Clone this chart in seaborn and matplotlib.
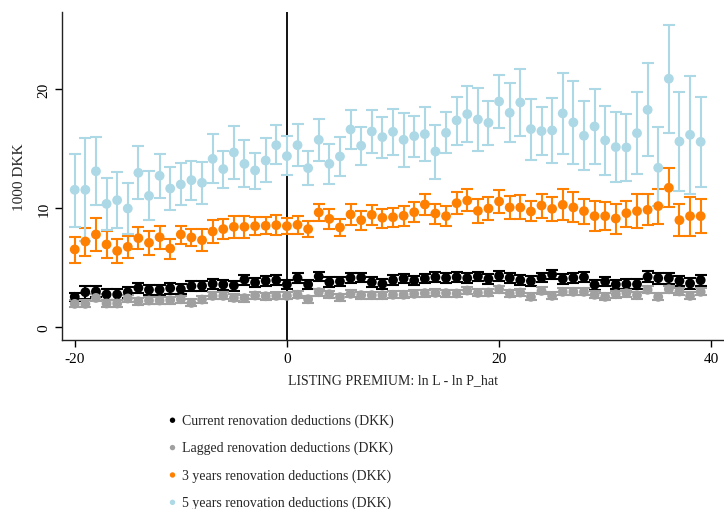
import numpy as np
import pandas as pd
import matplotlib
matplotlib.use("Agg")
import matplotlib.pyplot as plt
import seaborn as sns

x = list(range(-20, 40))

# 5 years renovation deductions (mean, lower, upper)
y5 = [11.54, 11.54, 13.10, 10.36, 10.67, 9.97, 12.97, 11.03, 12.72, 11.65,
      11.99, 12.35, 12.13, 14.14, 13.28, 14.68, 13.72, 13.17, 14.00, 15.29,
      14.37, 15.29, 13.36, 15.74, 13.72, 14.34, 16.61, 15.24, 16.44, 15.97,
      16.41, 15.74, 16.05, 16.22, 14.76, 16.33, 17.37, 17.90, 17.45, 17.17,
      18.96, 18.01, 18.88, 16.64, 16.47, 16.53, 17.96, 17.20, 16.08, 16.86,
      15.69, 15.13, 15.10, 16.30, 18.26, 13.39, 20.87, 15.60, 16.16, 15.57]
y5_hi = [14.56, 15.90, 15.97, 12.55, 13.05, 12.13, 15.20, 13.08, 14.56, 13.45,
         13.75, 13.98, 13.90, 16.19, 14.79, 16.92, 15.71, 14.65, 15.85, 16.95,
         16.02, 17.06, 14.76, 17.51, 15.38, 15.97, 18.24, 16.81, 18.21, 17.68,
         18.35, 18.01, 17.76, 18.46, 17.00, 18.04, 19.35, 20.25, 20.11, 19.02,
         21.20, 20.50, 21.71, 19.19, 18.51, 19.27, 21.34, 20.67, 18.96, 19.97,
         18.60, 18.07, 17.87, 19.78, 22.15, 16.78, 25.41, 19.75, 21.12, 19.35]
y5_lo = [8.43, 7.25, 10.25, 8.18, 8.32, 7.82, 10.76, 8.97, 10.87, 9.86,
         10.28, 10.67, 10.34, 12.13, 11.71, 12.46, 11.79, 11.65, 12.16, 13.67,
         12.77, 13.56, 11.96, 13.95, 12.07, 12.72, 14.96, 13.64, 14.62, 14.23,
         14.48, 13.47, 14.31, 13.92, 12.46, 14.62, 15.32, 15.55, 14.79, 15.32,
         16.70, 15.52, 16.08, 14.06, 14.43, 13.78, 14.56, 13.73, 13.22, 13.73,
         12.77, 12.18, 12.27, 12.83, 14.37, 10.17, 16.30, 11.48, 11.18, 11.76]

# 3 years renovation deductions
y3 = [6.53, 7.20, 7.79, 6.95, 6.41, 6.75, 7.48, 7.09, 7.56, 6.61,
      7.79, 7.54, 7.31, 8.04, 8.24, 8.43, 8.43, 8.49, 8.52, 8.57,
      8.49, 8.60, 8.24, 9.64, 9.10, 8.38, 9.47, 8.99, 9.44, 9.19,
      9.24, 9.36, 9.66, 10.31, 9.55, 9.33, 10.42, 10.64, 9.77, 9.97,
      10.56, 10.06, 10.06, 9.72, 10.22, 9.94, 10.28, 10.06, 9.75, 9.33,
      9.33, 9.13, 9.58, 9.75, 9.86, 10.17, 11.71, 8.99, 9.33, 9.33]
y3_hi = [7.59, 8.35, 9.19, 8.04, 7.37, 7.65, 8.40, 8.12, 8.52, 7.45,
         8.54, 8.29, 8.21, 9.02, 9.10, 9.33, 9.36, 9.22, 9.24, 9.39,
         9.19, 9.33, 8.93, 10.36, 9.89, 9.05, 10.31, 9.77, 10.25, 9.89,
         10.03, 10.20, 10.50, 11.18, 10.39, 10.17, 11.34, 11.57, 10.81, 10.90,
         11.51, 11.06, 11.09, 10.56, 11.23, 10.90, 11.60, 11.32, 10.81, 10.59,
         10.53, 10.34, 10.64, 11.15, 11.23, 11.57, 13.33, 10.31, 10.95, 10.76]
y3_lo = [5.41, 5.99, 6.39, 5.83, 5.43, 5.83, 6.55, 6.05, 6.61, 5.71,
         7.00, 6.78, 6.41, 7.09, 7.37, 7.51, 7.50, 7.76, 7.79, 7.76,
         7.79, 7.82, 7.56, 8.88, 8.29, 7.68, 8.60, 8.18, 8.60, 8.35,
         8.38, 8.49, 8.85, 9.41, 8.71, 8.46, 9.52, 9.75, 8.77, 9.02,
         9.58, 9.08, 9.05, 8.88, 9.19, 8.94, 9.02, 8.85, 8.68, 8.12,
         8.18, 7.87, 8.40, 8.35, 8.57, 8.71, 10.08, 7.68, 7.70, 7.90]

# Current renovation deductions
ycur = [2.55, 2.94, 3.00, 2.75, 2.75, 2.94, 3.30, 3.14, 3.14, 3.28,
        3.20, 3.45, 3.47, 3.64, 3.58, 3.50, 4.00, 3.75, 3.89, 3.95,
        3.60, 4.12, 3.59, 4.26, 3.78, 3.84, 4.14, 4.17, 3.78, 3.64,
        3.95, 4.09, 3.92, 4.09, 4.20, 4.14, 4.20, 4.12, 4.26, 4.06,
        4.31, 4.14, 3.95, 3.87, 4.17, 4.43, 4.06, 4.14, 4.20, 3.56,
        3.84, 3.59, 3.61, 3.61, 4.23, 4.12, 4.12, 3.89, 3.67, 3.95]
ycur_err = [0.35, 0.55, 0.50, 0.45, 0.45, 0.45, 0.45, 0.42, 0.42, 0.45,
            0.42, 0.42, 0.42, 0.45, 0.42, 0.42, 0.42, 0.40, 0.40, 0.40,
            0.40, 0.40, 0.40, 0.40, 0.40, 0.40, 0.40, 0.40, 0.40, 0.40,
            0.40, 0.40, 0.40, 0.40, 0.40, 0.40, 0.40, 0.40, 0.40, 0.40,
            0.40, 0.40, 0.40, 0.40, 0.40, 0.40, 0.40, 0.40, 0.40, 0.40,
            0.40, 0.40, 0.40, 0.40, 0.45, 0.45, 0.45, 0.45, 0.45, 0.45]

# Lagged renovation deductions
ylag = [1.96, 1.96, 2.46, 1.99, 1.99, 2.41, 2.18, 2.24, 2.24, 2.27,
        2.35, 2.04, 2.32, 2.63, 2.63, 2.46, 2.44, 2.66, 2.60, 2.63,
        2.63, 2.72, 2.35, 2.94, 2.77, 2.52, 2.80, 2.69, 2.69, 2.69,
        2.72, 2.72, 2.80, 2.86, 2.88, 2.86, 2.83, 3.08, 2.88, 2.91,
        3.19, 2.83, 2.91, 2.55, 3.05, 2.63, 2.97, 2.97, 2.97, 2.72,
        2.55, 2.77, 2.86, 2.69, 3.14, 2.55, 3.19, 3.00, 2.63, 2.97]
ylag_err = [0.30] * 60

labels = ["Current renovation deductions (DKK)",
          "Lagged renovation deductions (DKK)",
          "3 years renovation deductions (DKK)",
          "5 years renovation deductions (DKK)"]
colors = ["#000000", "#a0a0a0", "#ff8000", "#add8e6"]

sns.set_theme(style="ticks")
plt.rcParams["font.family"] = ["Liberation Serif", "DejaVu Serif"]
plt.rcParams["axes.unicode_minus"] = False

fig = plt.figure(figsize=(7.24, 5.10), dpi=100)
ax = fig.add_axes([62 / 724, 1 - 340.7 / 510, 1 - 62 / 724, (340.7 - 13.3) / 510])

series = [
    (ycur, np.array(ycur) - np.array(ycur_err), np.array(ycur) + np.array(ycur_err)),
    (ylag, np.array(ylag) - np.array(ylag_err), np.array(ylag) + np.array(ylag_err)),
    (y3, np.array(y3_lo), np.array(y3_hi)),
    (y5, np.array(y5_lo), np.array(y5_hi)),
]

rows = []
for lab, (m, lo, hi) in zip(labels, series):
    for xi, mi in zip(x, m):
        rows.append({"x": xi, "y": mi, "series": lab})
df = pd.DataFrame(rows)

for lab, col, (m, lo, hi) in zip(labels, colors, series):
    m = np.array(m)
    ax.errorbar(x, m, yerr=[m - lo, hi - m], fmt="none", ecolor=col,
                elinewidth=1.5, capsize=4, capthick=1.5, zorder=2)
    sns.scatterplot(data=df[df["series"] == lab], x="x", y="y", color=col,
                    s=50, edgecolor="none", ax=ax, zorder=3, label=lab)

ax.axvline(0, color="black", lw=1.3, zorder=1)

ax.set_xlim(-21.2, 41.2)
ax.set_ylim(-1.05, 26.45)
ax.set_xticks([-20, 0, 20, 40])
ax.set_yticks([0, 10, 20])
ax.set_yticklabels(["0", "10", "20"], rotation=90, va="center")
ax.tick_params(labelsize=11, length=5, width=1, color="black", labelcolor="black")
sns.despine(ax=ax)
for s in ["left", "bottom"]:
    ax.spines[s].set_color("#222222")
    ax.spines[s].set_linewidth(1.0)

ax.set_xlabel("LISTING PREMIUM: ln L - ln P_hat", fontsize=10, labelpad=6)
ax.set_ylabel("1000 DKK", fontsize=11, labelpad=8)

handles, hl = ax.get_legend_handles_labels()
if ax.get_legend():
    ax.get_legend().remove()
fig.legend(handles, hl, loc="upper left", bbox_to_anchor=(160 / 724, 1 - 409 / 510),
           frameon=False, fontsize=10, markerscale=0.55, handletextpad=0.2,
           labelspacing=1.0, handlelength=1.0, borderaxespad=0)

fig.savefig("out.png", dpi=100)
